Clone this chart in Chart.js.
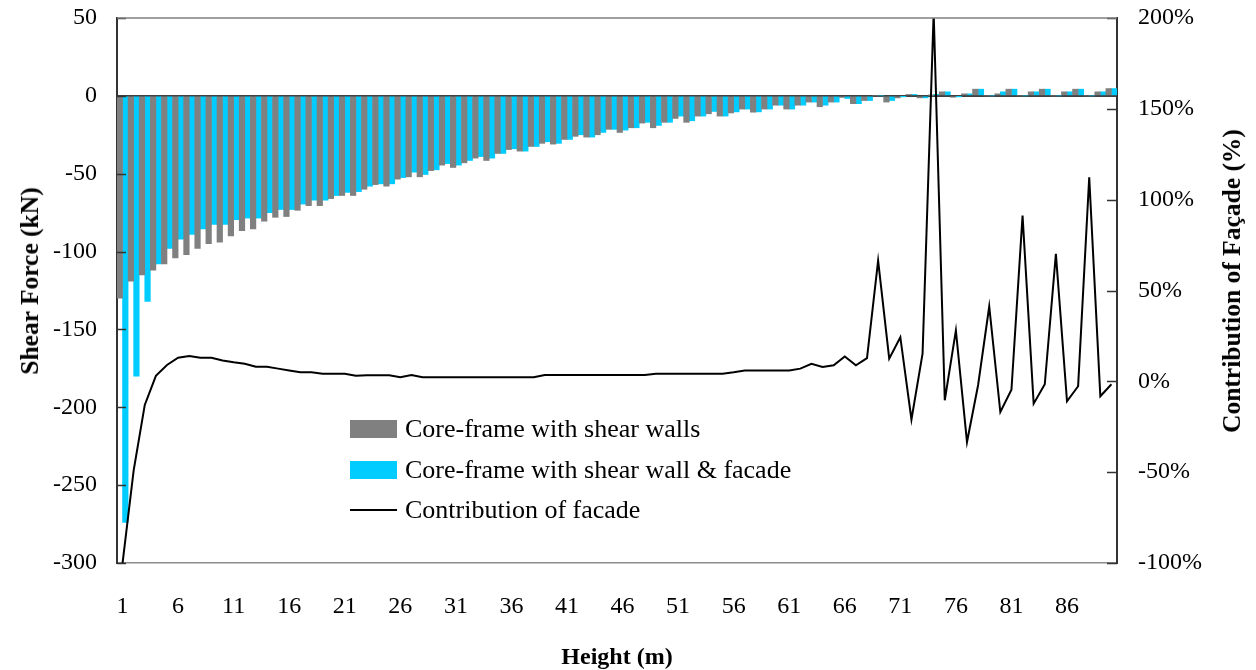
<!DOCTYPE html>
<html>
<head>
<meta charset="utf-8">
<script src="https://cdn.jsdelivr.net/npm/chart.js@4.4.1/dist/chart.umd.min.js"></script>
<style>
  html, body { margin: 0; padding: 0; background: #fff; }
  #wrap { position: relative; width: 1256px; height: 670px; }
  #shear-chart { display: block; }
  .leg-row { position: absolute; left: 350px; height: 30px; display: flex; align-items: center;
    font: 26px "Liberation Serif", "Times New Roman", serif; color: #000; white-space: nowrap; }
  .leg-swatch { width: 47px; height: 18px; margin-right: 8px; }
  .leg-line { width: 47px; height: 0; border-top: 2px solid #000; margin-right: 8px; }
  .axis-title { position: absolute; transform: translate(-50%, -50%) rotate(-90deg);
    font: bold 25.5px "Liberation Serif", "Times New Roman", serif; color: #000; white-space: nowrap; }
  #y-title { left: 30px; top: 281px; }
  #y1-title { left: 1232px; top: 281px; }
</style>
</head>
<body>
<div id="wrap">
  <canvas id="shear-chart" width="1256" height="670"></canvas>
  <div id="legend"></div>
  <div id="y-title" class="axis-title"></div>
  <div id="y1-title" class="axis-title"></div>
</div>
<script>
// Height levels (m)
const heights = [1, 2, 3, 4, 5, 6, 7, 8, 9, 10, 11, 12, 13, 14, 15, 16, 17, 18, 19, 20,
  21, 22, 23, 24, 25, 26, 27, 28, 29, 30, 31, 32, 33, 34, 35, 36, 37, 38, 39, 40,
  41, 42, 43, 44, 45, 46, 47, 48, 49, 50, 51, 52, 53, 54, 55, 56, 57, 58, 59, 60,
  61, 62, 63, 64, 65, 66, 67, 68, 69, 70, 71, 72, 73, 74, 75, 76, 77, 78, 79, 80,
  81, 82, 83, 84, 85, 86, 87, 88, 89, 90];
const xTickLabels = ['1', '6', '11', '16', '21', '26', '31', '36', '41', '46', '51', '56', '61', '66', '71', '76', '81', '86'];

// Shear force (kN)
const shearWalls = [-130, -119, -115, -112, -108, -104, -102, -98, -95, -94,
  -90, -86.5, -85.5, -80.5, -78, -77.5, -73.5, -70.5, -70.5, -66,
  -64, -64, -60, -57, -58, -53.5, -52, -52, -48, -44.5,
  -46, -43, -40, -41.5, -37, -34.5, -35.5, -32.5, -30.5, -31,
  -28, -26, -26.5, -25, -21.5, -23.5, -20.5, -17.5, -20.5, -17,
  -14.5, -17, -13, -11.5, -13, -11, -8.5, -10.5, -8.5, -6,
  -8.5, -6, -4, -7, -4, -1, -5, -3, 0, -4,
  -1.3, 0.9, -1.3, 0.3, 2.6, -0.9, 1.3, 4.3, 0, 1.3,
  4.3, 0, 2.6, 4.3, 0, 2.6, 4.3, 0, 2.6, 4.7];
const shearWallFacade = [-274, -180, -132, -108, -98, -92, -89, -85.5, -82.5, -82.5,
  -79.5, -78.5, -78.5, -75, -73, -73, -69.5, -67, -67, -64,
  -62, -61.5, -58, -56.5, -56.5, -52.5, -49, -50.5, -47.5, -43.5,
  -44.5, -41.5, -39, -40, -37, -34, -35.5, -32.5, -29.5, -30.5,
  -28, -25, -26.5, -23.5, -21.5, -22, -20.5, -17, -19, -17,
  -13, -16, -13, -10, -13, -10.3, -8.5, -10.3, -8.5, -6,
  -8.5, -6, -4, -6, -4, -1.7, -5, -3, 0, -3,
  -0.3, 0.9, -1.3, 1, 2.6, -0.3, 1.3, 4.3, 0, 2.6,
  4.3, 0, 2.6, 4.3, 0, 2.6, 4.3, 0, 2.6, 4.7];

// Contribution of facade (%)
const facadeContribution = [-100, -49, -13, 3, 9, 13, 14, 13, 13, 11.5,
  10.5, 9.7, 8, 8, 7, 6, 5, 5, 4.2, 4.2,
  4.2, 3.1, 3.3, 3.3, 3.3, 2.2, 3.5, 2.2, 2.2, 2.2,
  2.2, 2.2, 2.2, 2.2, 2.2, 2.2, 2.2, 2.2, 3.5, 3.5,
  3.5, 3.5, 3.5, 3.5, 3.5, 3.5, 3.5, 3.5, 4.2, 4.2,
  4.2, 4.2, 4.2, 4.2, 4.2, 5, 6, 6, 6, 6,
  6, 7, 9.7, 7.9, 8.8, 13.7, 8.8, 12.8, 66.5, 12.5,
  24.3, -21, 15.2, 203, -10.4, 28, -33.4, -2, 41.2, -16.9,
  -4.6, 91.2, -12.3, -1.6, 70.2, -11, -2.7, 112.3, -8.2, -1.6];

const seriesNames = ['Core-frame with shear walls', 'Core-frame with shear wall & facade', 'Contribution of facade'];
const yTitle = 'Shear Force (kN)';
const y1Title = 'Contribution of Façade (%)';
const xTitle = 'Height (m)';

const serif = '"Liberation Serif", "Times New Roman", serif';

// inner tick marks + top edge of the plot box
const plotFrame = {
  id: 'plotFrame',
  afterDraw(chart) {
    const { ctx, chartArea: a, scales } = chart;
    ctx.save();
    ctx.strokeStyle = '#333';
    ctx.lineWidth = 1.5;
    ctx.beginPath();
    scales.y.ticks.forEach(t => {
      const p = Math.round(scales.y.getPixelForValue(t.value)) + 0.5;
      ctx.moveTo(a.left, p); ctx.lineTo(a.left + 9, p);
    });
    scales.y1.ticks.forEach(t => {
      const p = Math.round(scales.y1.getPixelForValue(t.value)) + 0.5;
      ctx.moveTo(a.right - 10, p); ctx.lineTo(a.right, p);
    });
    ctx.stroke();
    ctx.strokeStyle = '#7f7f7f';
    ctx.beginPath();
    ctx.moveTo(a.left, a.top); ctx.lineTo(a.right, a.top);
    ctx.stroke();
    ctx.restore();
  }
};

new Chart(document.getElementById('shear-chart'), {
  type: 'bar',
  data: {
    labels: heights,
    datasets: [
      {
        type: 'line',
        label: seriesNames[2],
        data: facadeContribution,
        yAxisID: 'y1',
        borderColor: '#000',
        borderWidth: 2,
        pointRadius: 0,
        tension: 0,
        order: 0
      },
      {
        label: seriesNames[0],
        data: shearWalls,
        yAxisID: 'y',
        backgroundColor: '#808080',
        barPercentage: 1,
        categoryPercentage: 1,
        order: 1
      },
      {
        label: seriesNames[1],
        data: shearWallFacade,
        yAxisID: 'y',
        backgroundColor: '#00CCFF',
        barPercentage: 1,
        categoryPercentage: 1,
        order: 1
      }
    ]
  },
  options: {
    responsive: false,
    animation: false,
    layout: { padding: { top: 18, left: 0, right: 0, bottom: 0 } },
    plugins: {
      legend: { display: false },
      tooltip: { enabled: false }
    },
    scales: {
      x: {
        grid: { display: false, drawTicks: false },
        border: { display: true, color: '#8c8c8c', width: 1.5 },
        ticks: {
          autoSkip: false,
          maxRotation: 0,
          padding: 29,
          color: '#000',
          font: { family: serif, size: 24 },
          callback: (v, i) => xTickLabels.includes(String(heights[i])) ? heights[i] : ''
        },
        title: { display: true, text: xTitle, color: '#000', font: { family: serif, size: 24, weight: 'bold', lineHeight: 1 }, padding: 0 },
        afterFit: s => { s.height = 107; }
      },
      y: {
        position: 'left',
        min: -300,
        max: 50,
        grid: {
          drawTicks: true,
          tickLength: 20,
          tickColor: 'rgba(0,0,0,0)',
          color: c => c.tick && c.tick.value === 0 ? '#404040' : 'rgba(0,0,0,0)',
          lineWidth: 2
        },
        border: { display: true, color: '#333', width: 2 },
        ticks: { stepSize: 50, padding: 0, color: '#000', font: { family: serif, size: 24 } },
        afterFit: s => { s.width = 117; }
      },
      y1: {
        position: 'right',
        min: -100,
        max: 200,
        grid: { display: false, drawTicks: true, tickLength: 21, tickColor: 'rgba(0,0,0,0)' },
        border: { display: true, color: '#333', width: 2 },
        ticks: { stepSize: 50, padding: 0, color: '#000', font: { family: serif, size: 24 }, callback: v => v + '%' },
        afterFit: s => { s.width = 139; }
      }
    }
  },
  plugins: [plotFrame]
});

// legend and vertical axis titles as HTML text
const legend = document.getElementById('legend');
const legendRows = [
  { name: seriesNames[0], kind: 'box', color: '#808080', cy: 429 },
  { name: seriesNames[1], kind: 'box', color: '#00CCFF', cy: 470 },
  { name: seriesNames[2], kind: 'line', color: '#000', cy: 510 }
];
legendRows.forEach(r => {
  const row = document.createElement('div');
  row.className = 'leg-row';
  row.style.top = (r.cy - 15) + 'px';
  const sw = document.createElement('span');
  if (r.kind === 'box') { sw.className = 'leg-swatch'; sw.style.background = r.color; }
  else { sw.className = 'leg-line'; }
  const txt = document.createElement('span');
  txt.textContent = r.name;
  row.appendChild(sw);
  row.appendChild(txt);
  legend.appendChild(row);
});
document.getElementById('y-title').textContent = yTitle;
document.getElementById('y1-title').textContent = y1Title;
</script>
</body>
</html>
